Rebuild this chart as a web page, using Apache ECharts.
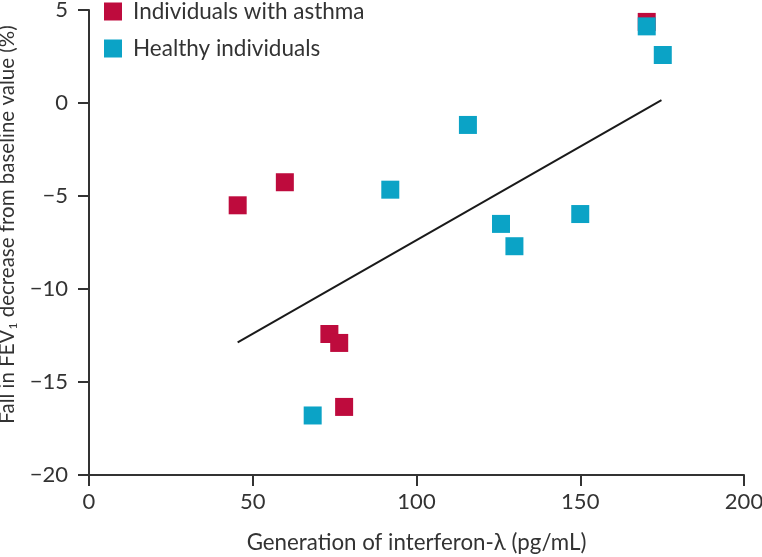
<!DOCTYPE html>
<html>
<head>
<meta charset="utf-8">
<script src="https://cdn.jsdelivr.net/npm/echarts@6/dist/echarts.min.js"></script>
<style>
  html, body { margin: 0; padding: 0; background: #fff; }
  #chart { width: 762px; height: 557px; }
</style>
</head>
<body>
<div id="chart"></div>
<script>
// values
const asthmaX = [45.4, 59.8, 73.4, 76.4, 77.9, 170.3]
const asthmaY = [-5.5, -4.26, -12.42, -12.9, -16.34, 4.36]
const healthyX = [68.3, 92.0, 115.7, 125.8, 129.9, 150.0, 170.3, 175.2]
const healthyY = [-16.8, -4.66, -1.18, -6.5, -7.7, -5.97, 4.12, 2.58]
const fitX = [45.4, 174.8]
const fitY = [-12.87, 0.15]

const seriesNames = ['Individuals with asthma', 'Healthy individuals']
const colors = ['#BE0B3D', '#0BA3C6']
const textColor = '#333333'
const fontFamily = 'Lato, "Open Sans", sans-serif'

function pairs(xs, ys) {
  return xs.map(function(x, i) { return [x, ys[i]] })
}
function minusFmt(v) {
  return String(v).replace('-', '\u2212')
}

const chart = echarts.init(document.getElementById('chart'))

const option = {
  animation: false,
  textStyle: { fontFamily: fontFamily },
  legend: {
    orient: 'vertical',
    left: 104,
    top: 0,
    padding: 0,
    icon: 'rect',
    itemWidth: 18,
    itemHeight: 18,
    itemGap: 14,
    data: seriesNames,
    textStyle: { fontSize: 22.5, lineHeight: 18, color: textColor, fontFamily: fontFamily, padding: [0, 0, 0, 6] }
  },
  grid: {
    left: 89,
    right: 18,
    top: 10,
    bottom: 82,
    outerBoundsMode: 'none'
  },
  xAxis: {
    type: 'value',
    min: 0,
    max: 200,
    interval: 50,
    name: 'Generation of interferon-\u03bb (pg/mL)',
    nameLocation: 'middle',
    nameGap: 57,
    nameTextStyle: { fontSize: 22.3, color: textColor, fontFamily: fontFamily },
    axisLine: { show: true, onZero: false, lineStyle: { color: textColor, width: 2 } },
    axisTick: { show: true, length: 11, lineStyle: { color: textColor, width: 2 } },
    axisLabel: { fontSize: 22, color: textColor, margin: 16, fontFamily: fontFamily },
    splitLine: { show: false }
  },
  yAxis: {
    type: 'value',
    min: -20,
    max: 5,
    interval: 5,
    name: '{n|Fall in FEV}{s|1}{n| decrease from baseline value (%)}',
    nameLocation: 'middle',
    nameGap: 58,
    nameRotate: 90,
    nameTextStyle: {
      color: textColor,
      padding: [0, 0, 0, 36],
      rich: {
        n: { fontSize: 20.5, color: textColor, fontFamily: fontFamily },
        s: { fontSize: 12, color: textColor, fontFamily: fontFamily, verticalAlign: 'bottom', padding: [11, 0, 0, 0] }
      }
    },
    axisLine: { show: true, onZero: false, lineStyle: { color: textColor, width: 2 } },
    axisTick: { show: true, length: 11, lineStyle: { color: textColor, width: 2 } },
    axisLabel: { fontSize: 22, color: textColor, margin: 21, fontFamily: fontFamily, formatter: minusFmt },
    splitLine: { show: false }
  },
  series: [
    {
      name: 'fit',
      type: 'line',
      data: pairs(fitX, fitY),
      symbol: 'none',
      lineStyle: { color: '#1a1a1a', width: 2 },
      z: 1
    },
    {
      name: seriesNames[0],
      type: 'scatter',
      symbol: 'rect',
      symbolSize: 18,
      data: pairs(asthmaX, asthmaY),
      itemStyle: { color: colors[0], opacity: 1 },
      z: 2
    },
    {
      name: seriesNames[1],
      type: 'scatter',
      symbol: 'rect',
      symbolSize: 18,
      data: pairs(healthyX, healthyY),
      itemStyle: { color: colors[1], opacity: 1 },
      z: 3
    }
  ]
}

chart.setOption(option)
window.addEventListener('resize', function() {
  chart.resize()
})
</script>
</body>
</html>
